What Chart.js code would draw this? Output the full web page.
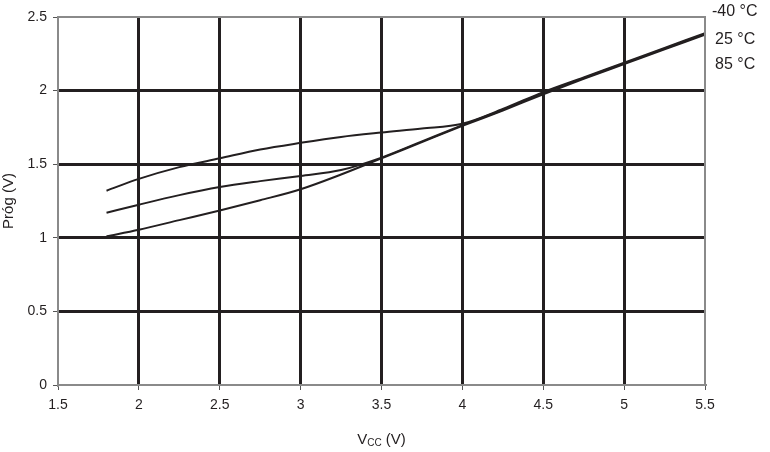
<!DOCTYPE html>
<html>
<head>
<meta charset="utf-8">
<script src="https://cdn.jsdelivr.net/npm/chart.js@4"></script>
<style>
  html, body { margin: 0; padding: 0; background: #fff; }
  #wrap { width: 770px; height: 452px; }
</style>
</head>
<body>
<div id="wrap"><canvas id="myChart" width="770" height="452"></canvas></div>
<script>
// supply voltage (V)
const vcc = [1.8, 2.0, 2.25, 2.5, 2.75, 3.0, 3.25, 3.5, 3.75, 4.0, 4.25, 4.5, 4.75, 5.0, 5.25, 5.5];
// threshold (V) per temperature
const progM40 = [1.32, 1.40, 1.48, 1.54, 1.60, 1.645, 1.685, 1.715, 1.742, 1.775, 1.875, 1.99, 2.09, 2.19, 2.29, 2.39];
const prog25  = [1.17, 1.225, 1.29, 1.345, 1.385, 1.42, 1.46, 1.545, 1.655, 1.765, 1.87, 1.985, 2.085, 2.185, 2.285, 2.385];
const prog85  = [1.01, 1.055, 1.12, 1.185, 1.255, 1.33, 1.43, 1.54, 1.65, 1.76, 1.865, 1.975, 2.08, 2.18, 2.28, 2.38];
const seriesLabels = ['-40 °C', '25 °C', '85 °C'];

const ink = '#231f20';
const fontFam = '"Liberation Sans", Arial, sans-serif';

function pts(ys) {
  return vcc.map((x, i) => ({ x: x, y: ys[i] }));
}

function lineSet(label, ys) {
  return {
    label: label,
    data: pts(ys),
    borderColor: ink,
    borderWidth: 2,
    pointRadius: 0,
    cubicInterpolationMode: 'monotone',
    fill: false
  };
}

// right side labels and subscripted x title
const extras = {
  id: 'extras',
  afterDraw(chart) {
    const ctx = chart.ctx;
    const a = chart.chartArea;
    ctx.save();
    ctx.fillStyle = ink;
    ctx.textBaseline = 'middle';
    ctx.textAlign = 'left';
    ctx.font = '16px ' + fontFam;
    const ys = [12, 40, 65];
    seriesLabels.forEach((t, i) => {
      ctx.fillText(t, a.right + (i === 0 ? 7 : 10), ys[i]);
    });
    // x axis title V_CC (V)
    const cx = (a.left + a.right) / 2;
    const y = 440;
    ctx.font = '15px ' + fontFam;
    const w1 = ctx.measureText('V').width;
    ctx.font = '10px ' + fontFam;
    const w2 = ctx.measureText('CC').width;
    ctx.font = '15px ' + fontFam;
    const w3 = ctx.measureText(' (V)').width;
    let x = cx - (w1 + w2 + w3) / 2;
    ctx.fillText('V', x, y);
    x += w1;
    ctx.font = '10px ' + fontFam;
    ctx.fillText('CC', x, y + 3);
    x += w2;
    ctx.font = '15px ' + fontFam;
    ctx.fillText(' (V)', x, y);
    ctx.restore();
  }
};

function gridColor(c) {
  const v = c.tick ? c.tick.value : null;
  return (c.index === 0 || v === c.scale.max) ? 'rgba(0,0,0,0)' : ink;
}

function fmt(v) {
  return String(v);
}

new Chart('myChart', {
  type: 'line',
  data: {
    datasets: [
      lineSet(seriesLabels[0], progM40),
      lineSet(seriesLabels[1], prog25),
      lineSet(seriesLabels[2], prog85)
    ]
  },
  options: {
    responsive: false,
    animation: false,
    layout: { padding: { top: 17, right: 65, left: 0, bottom: 0 } },
    plugins: {
      legend: { display: false },
      tooltip: { enabled: false }
    },
    scales: {
      x: {
        type: 'linear',
        min: 1.5,
        max: 5.5,
        ticks: {
          stepSize: 0.5,
          color: ink,
          padding: 7,
          callback: fmt,
          font: { family: fontFam, size: 14 },
          maxRotation: 0
        },
        grid: {
          color: gridColor,
          lineWidth: 3,
          tickColor: '#555',
          tickWidth: 1,
          tickLength: 5
        },
        border: { display: true, color: '#8a8a8a', width: 2 },
        afterFit(s) { s.height = 67; }
      },
      y: {
        min: 0,
        max: 2.5,
        ticks: {
          stepSize: 0.5,
          color: ink,
          padding: 6,
          callback: fmt,
          font: { family: fontFam, size: 14 }
        },
        grid: {
          color: gridColor,
          lineWidth: 3,
          tickColor: '#555',
          tickWidth: 1,
          tickLength: 5
        },
        border: { display: true, color: '#8a8a8a', width: 2 },
        title: {
          display: true,
          text: 'Próg (V)',
          color: ink,
          padding: { top: 0, bottom: 8 },
          font: { family: fontFam, size: 15 }
        },
        afterFit(s) { s.width = 58; }
      }
    }
  },
  plugins: [extras, {
    id: 'frame',
    afterDatasetsDraw(chart) {
      const ctx = chart.ctx;
      const a = chart.chartArea;
      ctx.save();
      ctx.strokeStyle = '#8a8a8a';
      ctx.lineWidth = 2;
      ctx.beginPath();
      ctx.moveTo(a.left, a.top);
      ctx.lineTo(a.right, a.top);
      ctx.lineTo(a.right, a.bottom);
      ctx.stroke();
      ctx.restore();
    }
  }]
});
</script>
</body>
</html>
